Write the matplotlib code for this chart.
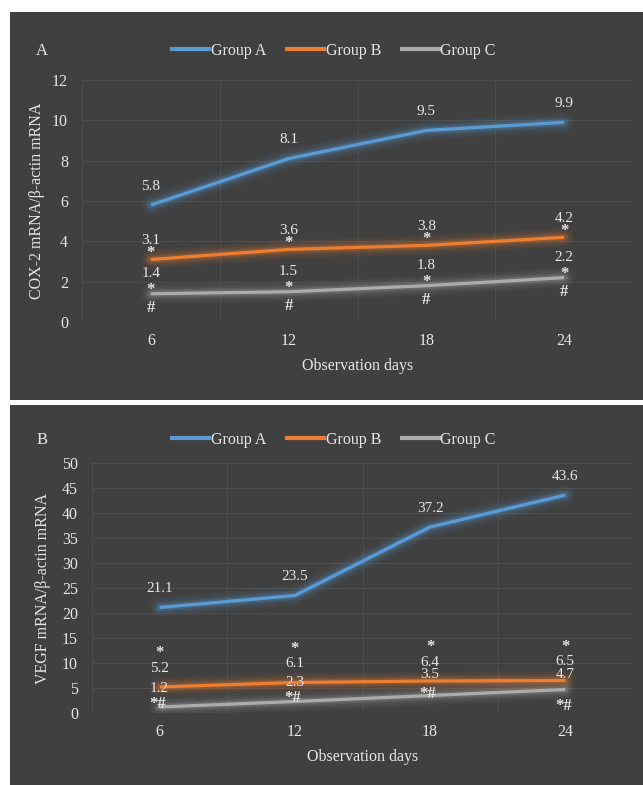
import matplotlib
matplotlib.use('Agg')
import matplotlib.pyplot as plt
from matplotlib.patches import Rectangle
from matplotlib.lines import Line2D

plt.rcParams['font.family'] = ['Liberation Serif', 'DejaVu Serif']

# ---------------- data ----------------
days = ['6', '12', '18', '24']
groups = ['Group A', 'Group B', 'Group C']

cox2_a = [5.8, 8.1, 9.5, 9.9]
cox2_b = [3.1, 3.6, 3.8, 4.2]
cox2_c = [1.4, 1.5, 1.8, 2.2]

vegf_a = [21.1, 23.5, 37.2, 43.6]
vegf_b = [5.2, 6.1, 6.4, 6.5]
vegf_c = [1.2, 2.3, 3.5, 4.7]

cox2_b_mark = ['*', '*', '*', '*']
cox2_c_mark_up = ['*', '*', '*', '*']
cox2_c_mark_down = ['#', '#', '#', '#']
vegf_b_mark = ['*', '*', '*', '*']
vegf_c_mark = ['*#', '*#', '*#', '*#']

cox2_yticks = [0, 2, 4, 6, 8, 10, 12]
vegf_yticks = [0, 5, 10, 15, 20, 25, 30, 35, 40, 45, 50]

# ---------------- style ----------------
W, H = 643, 785
BG = '#404040'
GRID = '#4d4d4d'
TXT = '#e6e6e6'
COLORS = ['#5b9bd5', '#ed7d31', '#ababab']
FS = 11.5

fig = plt.figure(figsize=(W / 100, H / 100), dpi=100)
fig.patch.set_facecolor('white')


def fx(px):
    return px / W


def fy(py):
    return 1 - py / H


def panel(y0, y1):
    fig.add_artist(Rectangle((fx(10), fy(y1)), fx(W - 10), (y1 - y0) / H,
                             transform=fig.transFigure, facecolor=BG,
                             edgecolor='none', zorder=0))


def glow_line(ax, xs, ys, color):
    for lw, al in [(15, 0.04), (12, 0.06), (9, 0.08), (6.5, 0.12), (4.5, 0.18)]:
        ax.plot(xs, ys, color=color, lw=lw, alpha=al, solid_capstyle='round',
                solid_joinstyle='round', zorder=2)
    ax.plot(xs, ys, color=color, lw=2.3, solid_capstyle='butt',
            solid_joinstyle='round', zorder=3)


def lab(ax, i, v, text, dy, dx=0, mark=False):
    ax.annotate(text, (i, v), xytext=(dx, dy), textcoords='offset pixels',
                ha='center', va='center', fontsize=12 if mark else 11,
                fontweight='bold' if mark else 'normal', color=TXT, zorder=5)


def setup_axes(rect, ymax, yticks, ylabel, ylab_x, letter, letter_y, legend_y):
    left, top, right, bottom = rect
    ax = fig.add_axes([fx(left), fy(bottom), fx(right - left), (bottom - top) / H])
    ax.set_facecolor('none')
    ax.set_xlim(-0.5, len(days) - 0.5)
    ax.set_ylim(0, ymax)
    ax.set_yticks(yticks)
    ax.set_xticks(range(len(days)))
    ax.set_xticklabels(days)
    for s in ax.spines.values():
        s.set_visible(False)
    ax.tick_params(axis='both', length=0, colors=TXT, labelsize=FS)
    ax.tick_params(axis='y', pad=10)
    ax.tick_params(axis='x', pad=8)
    for yv in yticks:
        ax.axhline(yv, color=GRID, lw=0.8, zorder=1)
    for xv in [k - 0.5 for k in range(len(days) + 1)]:
        ax.axvline(xv, color=GRID, lw=0.8, zorder=1)
    fig.text(fx(ylab_x), fy((top + bottom) / 2), ylabel, rotation=90,
             ha='center', va='center', color=TXT, fontsize=FS)
    fig.text(fx((left + right) / 2), fy(bottom + 44), 'Observation days',
             ha='center', va='center', color=TXT, fontsize=FS)
    fig.text(fx(42), fy(letter_y), letter, ha='center', va='center',
             color=TXT, fontsize=12)
    handles = [Line2D([], [], color=c, lw=3) for c in COLORS]
    fig.legend(handles, groups, loc='center', bbox_to_anchor=(fx(334), fy(legend_y)),
               ncol=3, frameon=False, fontsize=FS, labelcolor=TXT,
               handlelength=2.3, handletextpad=0.12, columnspacing=1.3,
               borderpad=0, borderaxespad=0)
    return ax


# ---------------- panel A ----------------
panel(12, 400)
axA = setup_axes((82, 80, 633, 322), 12, cox2_yticks,
                 'COX-2 mRNA/\u03b2-actin mRNA', 37, 'A', 51, 51)
xs = list(range(len(days)))
glow_line(axA, xs, cox2_c, COLORS[2])
glow_line(axA, xs, cox2_b, COLORS[1])
glow_line(axA, xs, cox2_a, COLORS[0])
for i in xs:
    lab(axA, i, cox2_a[i], f'{cox2_a[i]:.1f}', 19)
    lab(axA, i, cox2_b[i], f'{cox2_b[i]:.1f}', 19)
    lab(axA, i, cox2_b[i], cox2_b_mark[i], 6, mark=True)
    lab(axA, i, cox2_c[i], f'{cox2_c[i]:.1f}', 20)
    lab(axA, i, cox2_c[i], cox2_c_mark_up[i], 4, mark=True)
    lab(axA, i, cox2_c[i], cox2_c_mark_down[i], -14, mark=True)

# ---------------- panel B ----------------
panel(405, 785)
axB = setup_axes((92, 463, 633, 713), 50, vegf_yticks,
                 'VEGF mRNA/\u03b2-actin mRNA', 43, 'B', 440, 440)
glow_line(axB, xs, vegf_c, COLORS[2])
glow_line(axB, xs, vegf_b, COLORS[1])
glow_line(axB, xs, vegf_a, COLORS[0])
vegf_c_val_dy = [18, 19.5, 20.5, 15.5]
vegf_c_mark_dy = [3, 3, 1, -17]
for i in xs:
    lab(axB, i, vegf_a[i], f'{vegf_a[i]:.1f}', 19)
    lab(axB, i, vegf_b[i], vegf_b_mark[i], 34, mark=True)
    lab(axB, i, vegf_b[i], f'{vegf_b[i]:.1f}', 19)
    lab(axB, i, vegf_c[i], f'{vegf_c[i]:.1f}', vegf_c_val_dy[i])
    lab(axB, i, vegf_c[i], vegf_c_mark[i], vegf_c_mark_dy[i], -2, mark=True)

fig.savefig('out.png', dpi=100, facecolor=fig.get_facecolor())
